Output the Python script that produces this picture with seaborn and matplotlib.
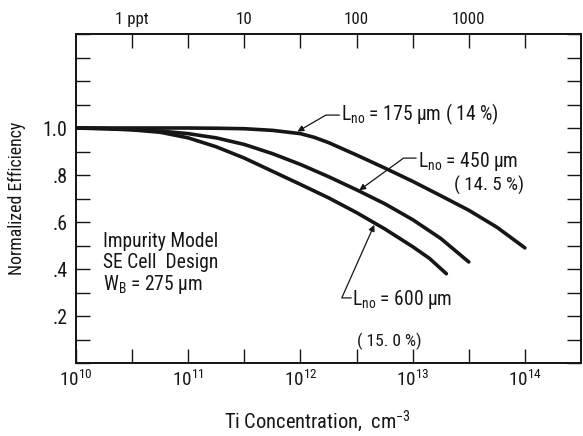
import numpy as np
import pandas as pd
import matplotlib
matplotlib.use("Agg")
import matplotlib.pyplot as plt
from matplotlib import font_manager
from matplotlib.ticker import NullLocator
import seaborn as sns

# ---------------- data (log10 of Ti concentration, normalized efficiency) ----
log_conc_175 = [10.0, 10.25, 10.5, 10.75, 11.0, 11.25, 11.5, 11.75, 12.0, 12.125, 12.25,
                12.5, 12.75, 13.0, 13.25, 13.5, 13.75, 14.0]
eff_175 = [1.0, 1.0, 1.0, 1.0, 1.0, 0.999, 0.997, 0.990, 0.976, 0.960, 0.938,
           0.885, 0.830, 0.773, 0.712, 0.650, 0.578, 0.490]

log_conc_450 = [10.0, 10.25, 10.5, 10.75, 11.0, 11.25, 11.5, 11.75, 12.0, 12.25, 12.5,
                12.75, 13.0, 13.25, 13.5]
eff_450 = [1.0, 0.998, 0.994, 0.987, 0.976, 0.958, 0.930, 0.891, 0.845, 0.793, 0.737,
           0.678, 0.610, 0.530, 0.430]

log_conc_600 = [10.0, 10.25, 10.5, 10.75, 11.0, 11.25, 11.5, 11.75, 12.0, 12.25, 12.5,
                12.75, 13.0, 13.15, 13.3]
eff_600 = [1.0, 0.997, 0.992, 0.982, 0.958, 0.920, 0.872, 0.816, 0.760, 0.703, 0.640,
           0.571, 0.495, 0.445, 0.380]

series_names = ["175", "450", "600"]

bottom_tick_exp = [10.0, 10.5, 11.0, 11.5, 12.0, 12.5, 13.0, 13.5, 14.0]
bottom_tick_labels = [r"$10^{10}$", "", r"$10^{11}$", "", r"$10^{12}$", "",
                      r"$10^{13}$", "", r"$10^{14}$"]
top_tick_exp = [10.5, 11.0, 11.5, 12.0, 12.5, 13.0, 13.5, 14.0]
top_tick_labels = ["1 ppt", "", "10", "", "100", "", "1000", ""]
y_ticks = [0.0, 0.1, 0.2, 0.3, 0.4, 0.5, 0.6, 0.7, 0.8, 0.9, 1.0, 1.1, 1.2, 1.3, 1.4]
y_tick_labels = ["", "", ".2", "", ".4", "", ".6", "", ".8", "", "1.0", "", "", "", ""]

# ---------------- build table ----------------
frames = []
for name, lx, ey in zip(series_names,
                        [log_conc_175, log_conc_450, log_conc_600],
                        [eff_175, eff_450, eff_600]):
    frames.append(pd.DataFrame({"conc": np.power(10.0, lx), "eff": ey, "series": name}))
df = pd.concat(frames, ignore_index=True)

# ---------------- style ----------------
sns.set_theme(style="ticks")
fonts = font_manager.fontManager.ttflist
names = {f.name for f in fonts}
if "Roboto Condensed" in names:
    main_font, stretch, scale = "Roboto Condensed", "normal", 1.1
elif "Liberation Sans Narrow" in names:
    main_font, stretch, scale = "Liberation Sans Narrow", "normal", 1.12
elif any(f.name == "DejaVu Sans" and f.stretch == "condensed" for f in fonts):
    main_font, stretch, scale = "DejaVu Sans", "condensed", 1.08
else:
    main_font, stretch, scale = "DejaVu Sans", "normal", 1.0
plt.rcParams["font.family"] = [main_font, "DejaVu Sans"]
plt.rcParams["font.stretch"] = stretch
plt.rcParams["mathtext.default"] = "regular"
plt.rcParams["mathtext.fontset"] = "custom"
plt.rcParams["mathtext.rm"] = f"{main_font}:stretch={stretch}"
plt.rcParams["mathtext.it"] = f"{main_font}:stretch={stretch}"
ink = "#161616"

fig = plt.figure(figsize=(5.83, 4.36), dpi=100)
ax = fig.add_axes([0.1304, 0.1674, 0.8662, 0.7546])

sns.lineplot(data=df, x="conc", y="eff", hue="series", palette=[ink] * 3,
             linewidth=2.6, legend=False, ax=ax)

ax.set_xscale("log")
ax.set_xlim(1e10, 10 ** 14.5)
ax.set_ylim(0, 1.4)
ax.xaxis.set_minor_locator(NullLocator())
ax.set_xticks([10 ** e for e in bottom_tick_exp], labels=bottom_tick_labels)
ax.set_yticks(y_ticks, labels=y_tick_labels)
ax.tick_params(axis="x", direction="in", length=10, width=1.0, bottom=True, top=False,
               labelsize=12.5 * scale, pad=5, colors=ink)
ax.tick_params(axis="y", direction="in", length=10, width=1.0, left=True, right=True,
               labelsize=13 * scale, pad=6, colors=ink)
for sp in ax.spines.values():
    sp.set_visible(True)
    sp.set_linewidth(1.3)
    sp.set_color(ink)

ax_top = ax.twiny()
ax_top.set_xscale("log")
ax_top.set_xlim(ax.get_xlim())
ax_top.xaxis.set_minor_locator(NullLocator())
ax_top.set_xticks([10 ** e for e in top_tick_exp], labels=top_tick_labels)
ax_top.tick_params(axis="x", direction="in", length=10, width=1.0, top=True, bottom=False,
                   labelsize=11 * scale, pad=5, colors=ink)
for sp in ax_top.spines.values():
    sp.set_linewidth(1.3)
    sp.set_color(ink)

ax.set_xlabel(r"Ti Concentration,  cm$^{-3}$", fontsize=13.3 * scale, color=ink)
ax.xaxis.set_label_coords(0.477, -0.14)
ax.set_ylabel("Normalized Efficiency", fontsize=11.6 * scale, color=ink)
ax.yaxis.set_label_coords(-0.1, 0.5)

# ---------------- annotations ----------------
fs = 12.8 * scale
arrow_kw = dict(arrowstyle="-|>", color=ink, lw=0.9, mutation_scale=9,
                shrinkA=0, shrinkB=0)

ax.annotate("", xy=(10 ** 11.973, 0.985), xytext=(10 ** 12.347, 1.055),
            arrowprops=dict(connectionstyle="angle,angleA=0,angleB=30,rad=0", **arrow_kw))
ax.text(10 ** 12.364, 1.034, r"$L_{no}$ = 175 µm ( 14 %)", fontsize=fs, color=ink,
        ha="left", va="baseline")

ax.annotate("", xy=(10 ** 12.524, 0.735), xytext=(10 ** 13.031, 0.872),
            arrowprops=dict(connectionstyle="angle,angleA=0,angleB=36,rad=0", **arrow_kw))
ax.text(10 ** 13.049, 0.834, r"$L_{no}$ = 450 µm", fontsize=fs, color=ink,
        ha="left", va="baseline")
ax.text(10 ** 13.369, 0.732, "( 14. 5 %)", fontsize=fs - 0.5, color=ink,
        ha="left", va="baseline")

ax.annotate("", xy=(10 ** 12.658, 0.588), xytext=(10 ** 12.453, 0.277),
            arrowprops=dict(connectionstyle="angle,angleA=0,angleB=66,rad=0", **arrow_kw))
ax.text(10 ** 12.462, 0.247, r"$L_{no}$ = 600 µm", fontsize=fs, color=ink,
        ha="left", va="baseline")
ax.text(10 ** 12.507, 0.072, "( 15. 0 %)", fontsize=fs - 1.5, color=ink,
        ha="left", va="baseline")

ax.text(10 ** 10.24, 0.494, "Impurity Model", fontsize=fs, color=ink, ha="left", va="baseline")
ax.text(10 ** 10.24, 0.404, "SE Cell  Design", fontsize=fs, color=ink, ha="left", va="baseline")
ax.text(10 ** 10.24, 0.311, r"$W_B$ = 275 µm", fontsize=fs, color=ink, ha="left", va="baseline")

fig.savefig("out.png", dpi=100)
